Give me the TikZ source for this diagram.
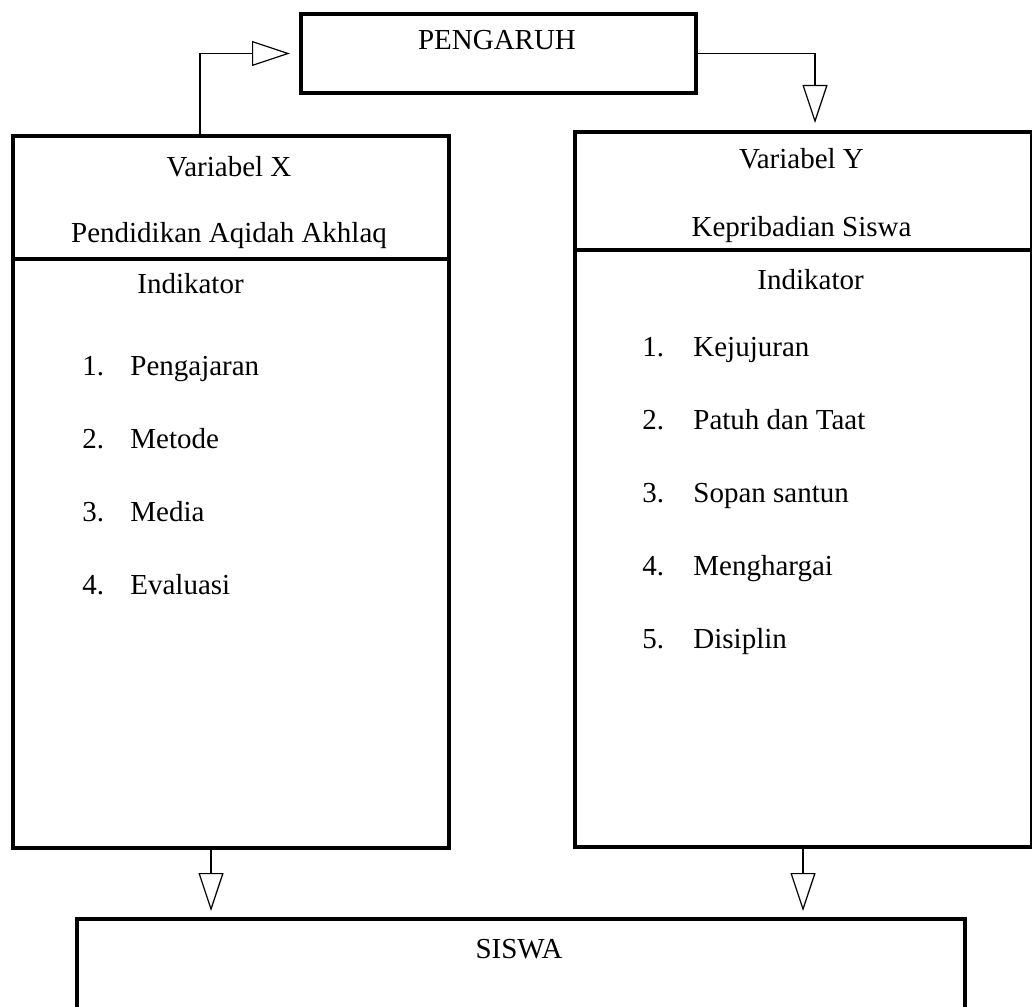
\documentclass[tikz,border=0pt]{standalone}
\usepackage{fontspec}
\setmainfont{Liberation Serif}
\usetikzlibrary{arrows.meta}
\begin{document}
\begin{tikzpicture}[x=0.5pt,y=-0.5pt,
  box/.style={draw, line width=2pt, inner sep=0pt, anchor=north west},
  lbl/.style={font=\fontsize{14.5}{17}\selectfont, inner sep=0pt},
  conn/.style={line width=0.75pt, -{Triangle[open,length=19pt,width=12.5pt,line width=0.6pt]}},
]
\useasboundingbox (0,0) rectangle (1032,1006);
% boxes
\node[box, minimum width=197.5pt, minimum height=39.5pt] (P) at (299,12) {};
\node[box, minimum width=218pt, minimum height=61.5pt] (Xt) at (11,134) {};
\node[box, minimum width=218pt, minimum height=294.5pt] (Xb) at (11,257) {};
\node[box, minimum width=228.5pt, minimum height=59pt] (Yt) at (573,130) {};
\node[box, minimum width=228.5pt, minimum height=298.5pt] (Yb) at (573,248) {};
\node[box, minimum width=444pt, minimum height=70pt] (S) at (75,917) {};
% connectors
\draw[conn, shorten >=4.5pt] ([xshift=94.5pt]Xt.north west) |- (P.west);
\draw[conn, shorten >=3.5pt] (P.east) -| ([xshift=121pt]Yt.north west);
\draw[conn, shorten >=3pt] ([xshift=100pt]Xb.south west) -- ([xshift=68pt]S.north west);
\draw[conn, shorten >=3pt] ([xshift=115pt]Yb.south west) -- ([xshift=364pt]S.north west);
% texts
\node[lbl, anchor=base] (tP) at (497,50) {PENGARUH};
\node[lbl, anchor=base] (tX1) at (229,176) {Variabel X};
\node[lbl, anchor=base] (tX2) at (229,242) {Pendidikan Aqidah Akhlaq};
\node[lbl, anchor=base] (tY1) at (801.5,168) {Variabel Y};
\node[lbl, anchor=base] (tY2) at (801.5,236) {Kepribadian Siswa};
\node[lbl, anchor=base west] (iX) at (137,293) {Indikator};
\node[lbl, anchor=base west] (iY) at (757,289) {Indikator};
\foreach \n/\t/\y [count=\i] in {1./Pengajaran/375, 2./Metode/448, 3./Media/521, 4./Evaluasi/594}{
  \node[lbl, anchor=base west] (xn\i) at (82,\y) {\n};
  \node[lbl, anchor=base west] (xt\i) at (130,\y) {\t};
}
\foreach \n/\t/\y [count=\i] in {1./Kejujuran/356, 2./Patuh dan Taat/429, 3./Sopan santun/502, 4./Menghargai/575, 5./Disiplin/648}{
  \node[lbl, anchor=base west] (yn\i) at (642,\y) {\n};
  \node[lbl, anchor=base west] (yt\i) at (693,\y) {\t};
}
\node[lbl, anchor=base] (tS) at (519,958) {SISWA};
\end{tikzpicture}
\end{document}
